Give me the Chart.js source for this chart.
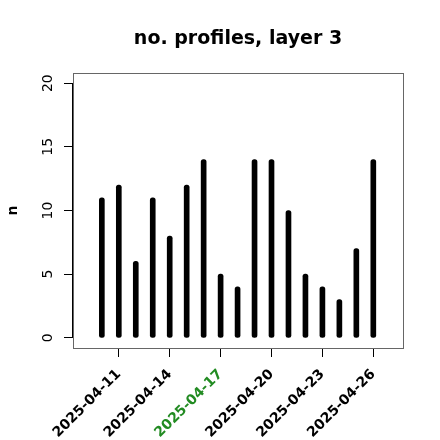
<!DOCTYPE html>
<html>
<head>
<meta charset="utf-8">
<script src="https://cdn.jsdelivr.net/npm/chart.js@4"></script>
<style>
  html, body { margin: 0; padding: 0; background: #fff; }
  #wrap { width: 440px; height: 440px; }
</style>
</head>
<body>
<div id="wrap"><canvas id="profilesChart"></canvas></div>
<script>
// one entry per day, 2025-04-10 .. 2025-04-26
const dates = [
  '2025-04-10', '2025-04-11', '2025-04-12', '2025-04-13', '2025-04-14',
  '2025-04-15', '2025-04-16', '2025-04-17', '2025-04-18', '2025-04-19',
  '2025-04-20', '2025-04-21', '2025-04-22', '2025-04-23', '2025-04-24',
  '2025-04-25', '2025-04-26'
];
const counts = [11, 12, 6, 11, 8, 12, 14, 5, 4, 14, 14, 10, 5, 4, 3, 7, 14];
const xTickDates = ['2025-04-11', '2025-04-14', '2025-04-17', '2025-04-20', '2025-04-23', '2025-04-26'];
const highlightDate = '2025-04-17';
const yTicks = [0, 5, 10, 15, 20];

const FONT = "'DejaVu Sans', sans-serif";

const ctx = document.getElementById('profilesChart').getContext('2d');

// R-like frame: grey box, black y axis line between first/last tick, rotated y labels
const rFrame = {
  id: 'rFrame',
  afterDraw(chart) {
    const { ctx, chartArea, scales } = chart;
    const y = scales.y;
    ctx.save();
    ctx.strokeStyle = '#666';
    ctx.lineWidth = 1;
    ctx.strokeRect(chartArea.left + 0.5, chartArea.top + 0.5,
      chartArea.right - chartArea.left, chartArea.bottom - chartArea.top);

    const yTop = y.getPixelForValue(yTicks[yTicks.length - 1]);
    const yBot = y.getPixelForValue(yTicks[0]);
    ctx.strokeStyle = '#000';
    ctx.beginPath();
    ctx.moveTo(chartArea.left - 0.5, yTop);
    ctx.lineTo(chartArea.left - 0.5, yBot);
    ctx.stroke();

    ctx.fillStyle = '#000';
    ctx.font = '14px ' + FONT;
    ctx.textAlign = 'center';
    ctx.textBaseline = 'middle';
    yTicks.forEach((v) => {
      ctx.save();
      ctx.translate(chartArea.left - 25, y.getPixelForValue(v));
      ctx.rotate(-Math.PI / 2);
      ctx.fillText(String(v), 0, 0);
      ctx.restore();
    });

    ctx.font = 'bold 14px ' + FONT;
    ctx.save();
    ctx.translate(13, (chartArea.top + chartArea.bottom) / 2);
    ctx.rotate(-Math.PI / 2);
    ctx.fillText('n', 0, 0);
    ctx.restore();
    ctx.restore();
  }
};

new Chart(ctx, {
  type: 'bar',
  data: {
    datasets: [
      {
        label: 'n',
        data: counts.map((c, i) => ({ x: i, y: c })),
        backgroundColor: '#000',
        barThickness: 5,
        borderRadius: 2.5,
        borderSkipped: false,
      },
    ],
  },
  options: {
    responsive: true,
    maintainAspectRatio: false,
    animation: false,
    layout: { padding: { left: 73, right: 37, top: 0, bottom: 0 } },
    plugins: {
      legend: { display: false },
      tooltip: { enabled: false },
      title: {
        display: true,
        text: 'no. profiles, layer 3',
        color: '#000',
        font: { family: FONT, size: 19, weight: 'bold' },
        padding: { top: 28, bottom: 22.2 },
      },
    },
    scales: {
      x: {
        type: 'linear',
        offset: false,
        min: -1.7,
        max: 17.75,
        afterBuildTicks: (scale) => {
          scale.ticks = xTickDates.map((d) => ({ value: dates.indexOf(d) }));
        },
        afterFit: (scale) => { scale.height = 92; },
        grid: {
          offset: false,
          drawOnChartArea: false,
          drawTicks: true,
          tickLength: 9,
          color: '#000',
        },
        border: { display: false },
        ticks: {
          autoSkip: false,
          minRotation: 45,
          maxRotation: 45,
          padding: 9,
          font: { family: FONT, size: 14, weight: 'bold' },
          color: (c) => (dates[c.tick.value] === highlightDate ? '#228B22' : '#000'),
          callback: (v) => dates[v],
        },
      },
      y: {
        min: -0.8,
        max: 20.8,
        afterBuildTicks: (scale) => {
          scale.ticks = yTicks.map((v) => ({ value: v }));
        },
        afterFit: (scale) => { scale.width = 0; },
        grid: {
          offset: false,
          drawOnChartArea: false,
          drawTicks: true,
          tickLength: 9,
          color: '#000',
        },
        border: { display: false },
        ticks: { display: false },
      },
    },
  },
  plugins: [rFrame],
});
</script>
</body>
</html>
